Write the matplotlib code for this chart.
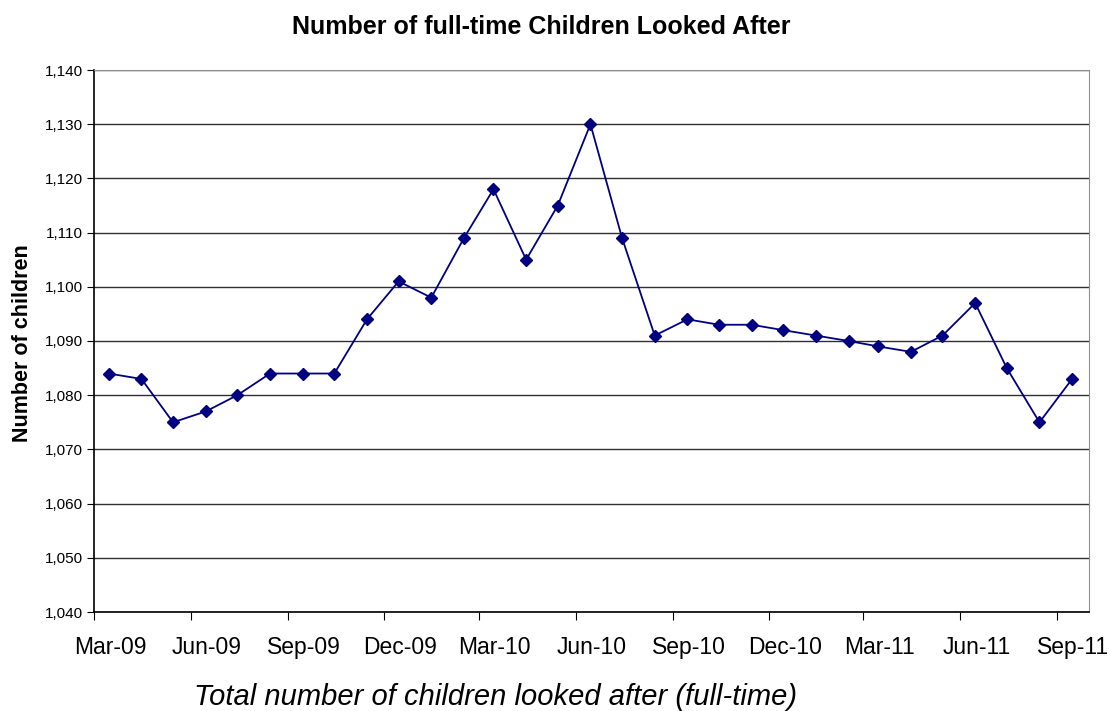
import matplotlib
matplotlib.use('Agg')
import matplotlib.pyplot as plt
import matplotlib.dates as mdates
import matplotlib.ticker as mticker
from matplotlib.transforms import ScaledTranslation
import pandas as pd

# monthly counts, Mar-09 .. Sep-11
months = pd.date_range('2009-03-01', '2011-09-01', freq='MS')
children = [1084, 1083, 1075, 1077, 1080, 1084, 1084, 1084, 1094, 1101,
            1098, 1109, 1118, 1105, 1115, 1130, 1109, 1091, 1094, 1093,
            1093, 1092, 1091, 1090, 1089, 1088, 1091, 1097, 1085, 1075, 1083]

plt.rcParams['font.family'] = ['Liberation Sans', 'DejaVu Sans']

fig = plt.figure(figsize=(11.09, 7.11), dpi=100)
ax = fig.add_axes([94/1109, 1 - 612/711, 995/1109, 542/711])

# points sit mid-month, ticks at month start
x = months + pd.Timedelta(days=14)
ax.plot(x, children, color='#000080', lw=1.3, marker='D', ms=6.5, zorder=3)

ax.set_xlim(pd.Timestamp('2009-03-01'), pd.Timestamp('2011-10-01'))
ax.set_ylim(1040, 1140)
ax.yaxis.set_major_locator(mticker.MultipleLocator(10))
ax.yaxis.set_major_formatter(mticker.FuncFormatter(lambda v, p: f'{int(v):,}'))
ax.xaxis.set_major_locator(mdates.MonthLocator(bymonth=[3, 6, 9, 12]))
ax.xaxis.set_major_formatter(mdates.DateFormatter('%b-%y'))

ax.grid(axis='y', color='#303030', lw=1)
ax.set_axisbelow(True)
for s in ['top', 'right']:
    ax.spines[s].set_color('#909090')
for s in ['left', 'bottom']:
    ax.spines[s].set_color('black')
    ax.spines[s].set_linewidth(1.2)

ax.tick_params(axis='y', labelsize=11, length=5, pad=3)
ax.tick_params(axis='x', labelsize=16.5, length=6, pad=11)
# excel centres the month labels on the month, not on the tick
shift = ScaledTranslation(16/100, 0, fig.dpi_scale_trans)
for lbl in ax.get_xticklabels():
    lbl.set_transform(lbl.get_transform() + shift)

fig.text(0.488, 0.962, 'Number of full-time Children Looked After',
         ha='center', va='center', fontsize=18, fontweight='bold')
fig.text(0.02, 0.518, 'Number of children', rotation=90,
         ha='center', va='center', fontsize=15.5, fontweight='bold')
fig.text(0.447, 0.02, 'Total number of children looked after (full-time)',
         ha='center', va='center', fontsize=21, style='italic')

fig.savefig('out.png', dpi=100)
